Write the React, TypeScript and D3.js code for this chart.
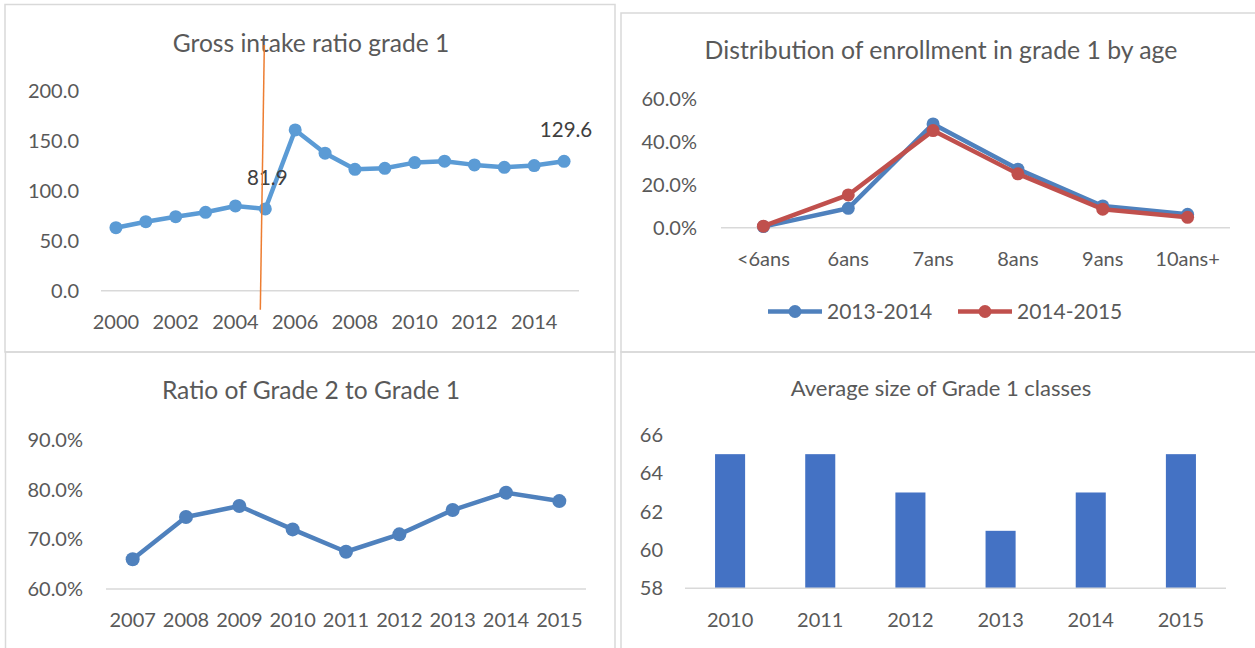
import React from "react";
import * as d3 from "d3";

// ---------- DATA ----------
const GIR_YEARS = [2000, 2001, 2002, 2003, 2004, 2005, 2006, 2007, 2008, 2009, 2010, 2011, 2012, 2013, 2014, 2015];
const GIR_VALUES = [63.1, 69.1, 74.1, 78.5, 84.9, 81.9, 161.0, 137.7, 121.6, 122.6, 128.3, 129.7, 126.0, 123.6, 125.3, 129.6];
const GIR_Y_TICKS = [0, 50, 100, 150, 200];
const GIR_X_TICKS = [2000, 2002, 2004, 2006, 2008, 2010, 2012, 2014];
const GIR_LABELED_YEARS = [2005, 2015];
// hand-drawn orange marker line near 2005 (value extent in axis units)
const GIR_MARKER = { year: 2005, top: 246, bottom: -19 };

const AGE_GROUPS = ["<6ans", "6ans", "7ans", "8ans", "9ans", "10ans+"];
const AGE_2013_2014 = [0.5, 9.0, 48.2, 27.2, 10.1, 6.2];
const AGE_2014_2015 = [0.7, 15.2, 45.1, 25.0, 8.6, 4.8];
const AGE_SERIES_NAMES = ["2013-2014", "2014-2015"];
const AGE_Y_TICKS = [0, 20, 40, 60];

const RATIO_YEARS = [2007, 2008, 2009, 2010, 2011, 2012, 2013, 2014, 2015];
const RATIO_VALUES = [66.0, 74.5, 76.7, 72.0, 67.5, 71.0, 75.9, 79.4, 77.7];
const RATIO_Y_TICKS = [60, 70, 80, 90];

const CLASS_YEARS = [2010, 2011, 2012, 2013, 2014, 2015];
const CLASS_SIZES = [65, 65, 63, 61, 63, 65];
const CLASS_Y_TICKS = [58, 60, 62, 64, 66];

// ---------- STYLE ----------
const FONT = "Lato, 'Open Sans', sans-serif";
const TEXT = "#595959";
const GRID = "#D9D9D9";
const TICK_SIZE = 20;
const TITLE_SIZE = 24.6;

function YLabels({ ticks, y, x, fmt }: { ticks: number[]; y: any; x: number; fmt: (v: number) => string }) {
  return (
    <g>
      {ticks.map((t) => (
        <text key={t} x={x} y={y(t)} dy="0.35em" textAnchor="end" fontSize={TICK_SIZE} fill={TEXT} fontFamily={FONT}>
          {fmt(t)}
        </text>
      ))}
    </g>
  );
}

function XLabels({ ticks, x, y }: { ticks: (string | number)[]; x: any; y: number }) {
  return (
    <g>
      {ticks.map((t) => (
        <text key={String(t)} x={x(t)} y={y} dy="0.35em" textAnchor="middle" fontSize={TICK_SIZE} fill={TEXT} fontFamily={FONT}>
          {t}
        </text>
      ))}
    </g>
  );
}

function Title({ x, y, text, size }: { x: number; y: number; text: string; size: number }) {
  return (
    <text x={x} y={y} dy="0.35em" textAnchor="middle" fontSize={size} fill={TEXT} fontFamily={FONT}>
      {text}
    </text>
  );
}

function GirChart() {
  const x = d3.scalePoint<number>().domain(GIR_YEARS).range([101, 579]).padding(0.5);
  const y = d3.scaleLinear().domain([0, 200]).range([290.7, 91]);
  const line = d3.line<number>().x((_, i) => x(GIR_YEARS[i])!).y((d) => y(d));
  const color = "#5B9BD5";
  const mx = x(GIR_MARKER.year)!;
  return (
    <g>
      <Title x={311} y={43} text="Gross intake ratio grade 1" size={TITLE_SIZE} />
      <YLabels ticks={GIR_Y_TICKS} y={y} x={79} fmt={(v) => v.toFixed(1)} />
      <line x1={101} x2={579} y1={y(0)} y2={y(0)} stroke={GRID} strokeWidth={1.5} />
      <XLabels ticks={GIR_X_TICKS} x={x} y={322} />
      <path d={line(GIR_VALUES)!} fill="none" stroke={color} strokeWidth={4.5} strokeLinejoin="round" />
      {GIR_VALUES.map((v, i) => (
        <circle key={i} cx={x(GIR_YEARS[i])} cy={y(v)} r={6.5} fill={color} />
      ))}
      {GIR_LABELED_YEARS.map((yr) => {
        const v = GIR_VALUES[GIR_YEARS.indexOf(yr)];
        return (
          <text key={yr} x={x(yr)! + 2} y={y(v) - 31} dy="0.35em" textAnchor="middle" fontSize={20.5} fill="#404040" fontFamily={FONT}>
            {v.toFixed(1)}
          </text>
        );
      })}
      <line x1={mx - 1} y1={y(GIR_MARKER.top)} x2={mx - 5} y2={y(GIR_MARKER.bottom)} stroke="#ED7D31" strokeWidth={1.5} />
    </g>
  );
}

function AgeChart() {
  const x = d3.scalePoint<string>().domain(AGE_GROUPS).range([721, 1230]).padding(0.5);
  const y = d3.scaleLinear().domain([0, 60]).range([227.7, 98.5]);
  const line = d3.line<number>().x((_, i) => x(AGE_GROUPS[i])!).y((d) => y(d));
  const series = [
    { name: AGE_SERIES_NAMES[0], values: AGE_2013_2014, color: "#4F81BD" },
    { name: AGE_SERIES_NAMES[1], values: AGE_2014_2015, color: "#C0504D" },
  ];
  const legendX = [768, 958];
  const legendY = 311.5;
  return (
    <g>
      <Title x={941} y={50} text="Distribution of enrollment in grade 1 by age" size={TITLE_SIZE + 0.2} />
      <YLabels ticks={AGE_Y_TICKS} y={y} x={697} fmt={(v) => v.toFixed(1) + "%"} />
      <line x1={721} x2={1230} y1={y(0)} y2={y(0)} stroke={GRID} strokeWidth={1.5} />
      <XLabels ticks={AGE_GROUPS} x={x} y={259} />
      {series.map((s) => (
        <g key={s.name}>
          <path d={line(s.values)!} fill="none" stroke={s.color} strokeWidth={4.5} strokeLinejoin="round" />
          {s.values.map((v, i) => (
            <circle key={i} cx={x(AGE_GROUPS[i])} cy={y(v)} r={6.5} fill={s.color} />
          ))}
        </g>
      ))}
      {series.map((s, i) => (
        <g key={"lg" + s.name}>
          <line x1={legendX[i]} x2={legendX[i] + 54} y1={legendY} y2={legendY} stroke={s.color} strokeWidth={4.5} />
          <circle cx={legendX[i] + 27} cy={legendY} r={6.5} fill={s.color} />
          <text x={legendX[i] + 59} y={legendY} dy="0.35em" fontSize={21} fill={TEXT} fontFamily={FONT}>
            {s.name}
          </text>
        </g>
      ))}
    </g>
  );
}

function RatioChart() {
  const x = d3.scalePoint<number>().domain(RATIO_YEARS).range([106, 586]).padding(0.5);
  const y = d3.scaleLinear().domain([60, 90]).range([589, 440]);
  const line = d3.line<number>().x((_, i) => x(RATIO_YEARS[i])!).y((d) => y(d));
  const color = "#4F81BD";
  return (
    <g>
      <Title x={311} y={390} text="Ratio of Grade 2 to Grade 1" size={TITLE_SIZE} />
      <YLabels ticks={RATIO_Y_TICKS} y={y} x={83} fmt={(v) => v.toFixed(1) + "%"} />
      <line x1={106} x2={586} y1={y(60)} y2={y(60)} stroke={GRID} strokeWidth={1.5} />
      <XLabels ticks={RATIO_YEARS} x={x} y={620} />
      <path d={line(RATIO_VALUES)!} fill="none" stroke={color} strokeWidth={4.5} strokeLinejoin="round" />
      {RATIO_VALUES.map((v, i) => (
        <circle key={i} cx={x(RATIO_YEARS[i])} cy={y(v)} r={7} fill={color} />
      ))}
    </g>
  );
}

function ClassChart() {
  const x = d3.scaleBand<number>().domain(CLASS_YEARS).range([685, 1226]).paddingInner(2 / 3).paddingOuter(1 / 3);
  const y = d3.scaleLinear().domain([58, 66]).range([588.3, 435]);
  const color = "#4472C4";
  const xc = (d: number) => x(d)! + x.bandwidth() / 2;
  return (
    <g>
      <Title x={941} y={388} text="Average size of Grade 1 classes" size={22} />
      <YLabels ticks={CLASS_Y_TICKS} y={y} x={663} fmt={(v) => String(v)} />
      {CLASS_SIZES.map((v, i) => (
        <rect key={i} x={x(CLASS_YEARS[i])} y={y(v)} width={x.bandwidth()} height={y(58) - y(v)} fill={color} />
      ))}
      <line x1={685} x2={1226} y1={y(58)} y2={y(58)} stroke={GRID} strokeWidth={1.5} />
      <XLabels ticks={CLASS_YEARS} x={xc} y={620} />
    </g>
  );
}

export default function App() {
  return (
    <svg width={1255} height={648} style={{ position: "absolute", left: 0, top: 0, background: "#fff" }}>
      <rect x={0} y={0} width={1255} height={648} fill="#fff" />
      {/* panel frames */}
      <rect x={5} y={4.5} width={610} height={347.5} fill="none" stroke={GRID} strokeWidth={1.5} />
      <rect x={621} y={13} width={640} height={339} fill="none" stroke={GRID} strokeWidth={1.5} />
      <rect x={5.5} y={352} width={609.5} height={310} fill="none" stroke={GRID} strokeWidth={1.5} />
      <rect x={621} y={352} width={640} height={310} fill="none" stroke={GRID} strokeWidth={1.5} />
      <GirChart />
      <AgeChart />
      <RatioChart />
      <ClassChart />
    </svg>
  );
}
